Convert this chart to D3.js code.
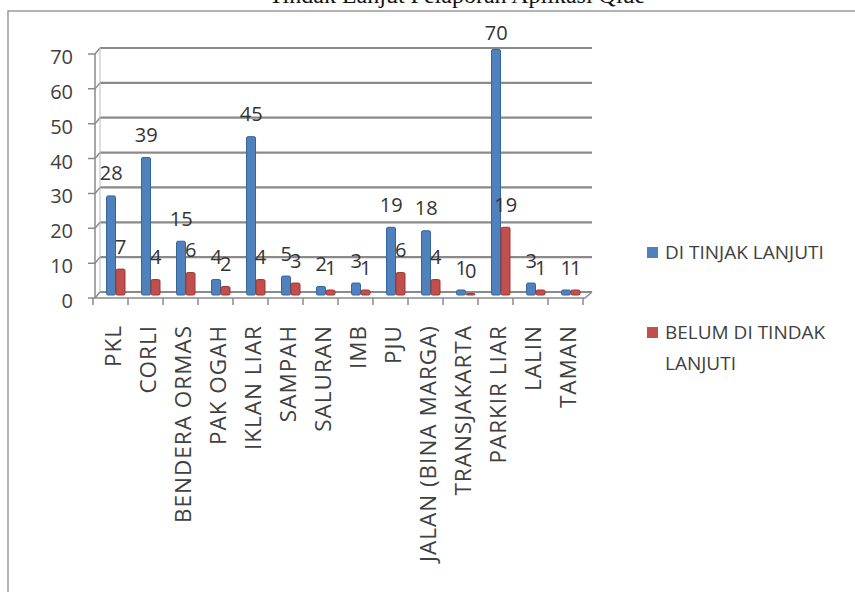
<!DOCTYPE html>
<html>
<head>
<meta charset="utf-8">
<script src="https://cdn.jsdelivr.net/npm/d3@7"></script>
<style>
  html, body { margin: 0; padding: 0; background: #fff; }
  svg { display: block; }
  text { font-family: "Open Sans", sans-serif; }
</style>
</head>
<body>
<svg id="chart" width="855" height="592"></svg>
<script>
// data
const title = "Tindak Lanjut Pelaporan Aplikasi Qlue"
const categories = ["PKL", "CORLI", "BENDERA ORMAS", "PAK OGAH", "IKLAN LIAR", "SAMPAH", "SALURAN",
  "IMB", "PJU", "JALAN (BINA MARGA)", "TRANSJAKARTA", "PARKIR LIAR", "LALIN", "TAMAN"]
const seriesNames = ["DI TINJAK LANJUTI", "BELUM DI TINDAK LANJUTI"]
const ditindak = [28, 39, 15, 4, 45, 5, 2, 3, 19, 18, 1, 70, 3, 1]
const belum = [7, 4, 6, 2, 4, 3, 1, 1, 6, 4, 0, 19, 1, 1]
const yTicks = [0, 10, 20, 30, 40, 50, 60, 70]
const colors = ["#4F81BD", "#C0504D"]
const edges = ["#36659c", "#9c3733"]

const svg = d3.select("#chart")

// outer frame + clipped title
svg.append("text").attr("x", 457).attr("y", 3).attr("text-anchor", "middle")
  .style("font-family", "'Liberation Serif', serif").style("font-size", "24px").attr("fill", "#111")
  .text(title)
svg.append("rect").attr("x", 8).attr("y", 11).attr("width", 900).attr("height", 700)
  .attr("fill", "none").attr("stroke", "#9a9a9a").attr("stroke-width", 1.5)

// pseudo 3d: back wall, middle (where bars stand) and front edge
const yBack = d3.scaleLinear().domain([0, 70]).range([292, 48])
const yMid = d3.scaleLinear().domain([0, 70]).range([295, 51])
const yFront = d3.scaleLinear().domain([0, 70]).range([298, 54])
const xBack = d3.scaleBand().domain(categories).range([100, 590])
const xFront = d3.scaleBand().domain(categories).range([93, 583])
const xSeries = d3.scaleBand().domain(seriesNames).range([6.5, 25.5])

const grid = svg.append("g").attr("stroke", "#8a8a8a").attr("fill", "none")
grid.selectAll("line.gl").data(yTicks).join("line").attr("class", "gl")
  .attr("x1", 100).attr("x2", 592).attr("y1", d => yBack(d)).attr("y2", d => yBack(d))
  .attr("stroke-width", 2.2)
grid.selectAll("path.tk").data(yTicks).join("path").attr("class", "tk")
  .attr("d", d => `M88,${yFront(d)}L95,${yFront(d)}L100,${yBack(d)}`)
  .attr("stroke-width", 1.5)
grid.append("line").attr("x1", 95).attr("x2", 95).attr("y1", yFront(0)).attr("y2", yFront(70)).attr("stroke-width", 1.5)
grid.append("line").attr("x1", 100).attr("x2", 100).attr("y1", yBack(0)).attr("y2", yBack(70)).attr("stroke-width", 1).attr("stroke", "#bbb")
// floor
grid.append("path").attr("d", `M95,${yFront(0)}L585,${yFront(0)}L592,${yBack(0)}`).attr("stroke-width", 1.5)
grid.selectAll("line.xt").data(categories.concat(["_end"])).join("line").attr("class", "xt")
  .attr("x1", (d, i) => 93 + i * xFront.step()).attr("x2", (d, i) => 93 + i * xFront.step())
  .attr("y1", yFront(0)).attr("y2", yFront(0) + 7).attr("stroke-width", 1.5)

// y axis labels
svg.append("g").selectAll("text").data(yTicks).join("text")
  .attr("x", 73).attr("y", d => yFront(d) + 3).attr("dy", "0.35em").attr("text-anchor", "end")
  .style("font-size", "20px").attr("fill", "#404040").text(d => d)

// bars
const rows = categories.map((c, i) => ({ cat: c, vals: [ditindak[i], belum[i]] }))
const groups = svg.append("g").selectAll("g").data(rows).join("g")
  .attr("transform", d => `translate(${xBack(d.cat)},0)`)
groups.selectAll("rect").data(d => d.vals.map((v, j) => ({ v, j, s: seriesNames[j] }))).join("rect")
  .attr("x", d => xSeries(d.s)).attr("width", xSeries.bandwidth() - 0.5)
  .attr("y", d => yMid(d.v) - 1.5).attr("height", d => yMid(0) - yMid(d.v) + 1.5)
  .attr("rx", 1.5)
  .attr("fill", d => colors[d.j]).attr("stroke", d => edges[d.j]).attr("stroke-width", 1)

// data labels
groups.selectAll("text").data(d => d.vals.map((v, j) => ({ v, j, s: seriesNames[j] }))).join("text")
  .attr("x", d => xSeries(d.s) + xSeries.bandwidth() / 2)
  .attr("y", d => Math.max(yMid(d.v) - 17, 40)).attr("text-anchor", "middle")
  .style("font-size", "20px").attr("fill", "#333").text(d => d.v)

// category labels, rotated
svg.append("g").selectAll("text").data(categories).join("text")
  .attr("transform", d => `translate(${xFront(d) + xFront.bandwidth() / 2 + 3},325) rotate(-90)`)
  .attr("dy", "0.35em").attr("text-anchor", "end")
  .style("font-size", "22.5px").style("letter-spacing", "1px").attr("fill", "#404040").text(d => d)

// legend
const legend = svg.append("g")
const legItems = [
  { c: colors[0], lines: ["DI TINJAK LANJUTI"], y: 252 },
  { c: colors[1], lines: ["BELUM DI TINDAK", "LANJUTI"], y: 332 }
]
legend.selectAll("rect").data(legItems).join("rect")
  .attr("x", 647).attr("y", d => d.y - 5).attr("width", 11).attr("height", 11).attr("fill", d => d.c)
legend.selectAll("text").data(legItems).join("text")
  .attr("x", 665).attr("y", d => d.y).attr("dy", "0.35em")
  .style("font-size", "19px").attr("fill", "#404040")
  .each(function (d) {
    d3.select(this).selectAll("tspan").data(d.lines).join("tspan")
      .attr("x", 665).attr("dy", (l, i) => i === 0 ? "0.35em" : "31px").text(l => l)
  })
</script>
</body>
</html>
